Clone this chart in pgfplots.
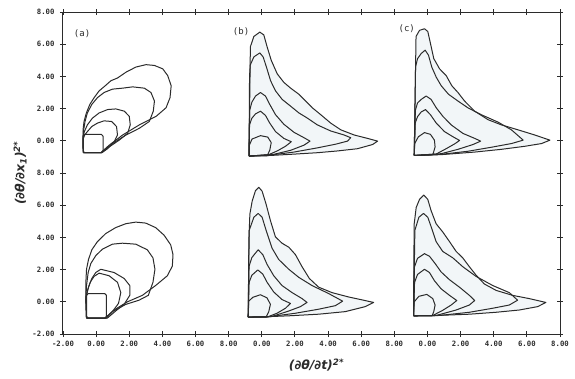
\documentclass[border=0pt]{standalone}
\usepackage{pgfplots}
\pgfplotsset{compat=1.18}
\usepackage{fontspec}
\newfontfamily\monofont{DejaVu Sans Mono}
\newfontfamily\labfont{DejaVu Sans}
\definecolor{ink}{rgb}{0.17,0.17,0.17}
\definecolor{tint}{RGB}{242,246,248}
\pgfplotsset{
  ctr/.style={draw=ink, line width=1.0pt, line join=round, mark=none},
  table/pAt/.style={x expr=\thisrowno{0}, y expr=\thisrowno{1}+10, row sep=\\, header=false},
  table/pBt/.style={x expr=\thisrowno{0}+10, y expr=\thisrowno{1}+10, row sep=\\, header=false},
  table/pCt/.style={x expr=\thisrowno{0}+20, y expr=\thisrowno{1}+10, row sep=\\, header=false},
  table/pAb/.style={x expr=\thisrowno{0}, y expr=\thisrowno{1}, row sep=\\, header=false},
  table/pBb/.style={x expr=\thisrowno{0}+10, y expr=\thisrowno{1}, row sep=\\, header=false},
  table/pCb/.style={x expr=\thisrowno{0}+20, y expr=\thisrowno{1}, row sep=\\, header=false},
}
\begin{document}
\begin{tikzpicture}
\path[use as bounding box] (-63pt,-44pt) rectangle (512pt,334pt);
\begin{axis}[
  at={(0,0)}, anchor=south west,
  scale only axis, width=497pt, height=322pt,
  xmin=-2, xmax=28, ymin=-2, ymax=18,
  axis line style={draw=ink, line width=1.0pt},
  tick style={draw=ink, line width=0.9pt},
  tick align=center, major tick length=6pt,
  xtick={-2,0,2,4,6,8,10,12,14,16,18,20,22,24,26,28},
  xticklabels={-2.00,0.00,2.00,4.00,6.00,8.00,0.00,2.00,4.00,6.00,8.00,0.00,2.00,4.00,6.00,8.00},
  ytick={-2,0,2,4,6,8,10,12,14,16,18},
  yticklabels={-2.00,0.00,2.00,4.00,6.00,8.00,0.00,2.00,4.00,6.00,8.00},
  ticklabel style={font=\monofont\bfseries\fontsize{7.3}{8}\selectfont, text=ink},
  xticklabel style={yshift=-1pt},
  yticklabel style={xshift=-2pt},
  xlabel={\labfont\bfseries\itshape (∂θ/∂t)\textsuperscript{2*}},
  ylabel={\labfont\bfseries\itshape (∂θ/∂x\textsubscript{1})\textsuperscript{2*}},
  label style={font=\fontsize{12.5}{14}\selectfont, text=ink},
  xlabel style={at={(axis description cs:0.51,0)}, yshift=-21pt},
  ylabel style={yshift=-1pt},
  clip=false,
]
% ---------- fills (b, c) ----------
\addplot[draw=none, fill=tint] table[pBt] {
-0.77 -0.95\\ -0.73 2.47\\ -0.69 5.84\\ -0.48 6.48\\ -0.12 6.75\\ 0.12 6.58\\ 0.32 5.84\\ 0.57 5.00\\ 0.93 4.16\\ 1.33 3.63\\ 1.74 3.27\\ 2.24 2.89\\ 2.65 2.47\\ 3.05 2.05\\ 3.56 1.62\\ 4.16 1.10\\ 4.77 0.68\\ 5.58 0.36\\ 6.38 0.15\\ 6.99 -0.02\\ 6.69 -0.23\\ 5.78 -0.49\\ 4.57 -0.63\\ 3.35 -0.74\\ 1.74 -0.84\\ 0.53 -0.91\\ -0.77 -0.95\\
};
\addplot[draw=none, fill=tint] table[pCt] {
-0.80 -0.91\\ -0.75 2.47\\ -0.69 6.48\\ -0.48 6.86\\ -0.18 6.96\\ 0.02 6.79\\ 0.18 6.05\\ 0.38 5.11\\ 0.73 4.47\\ 1.13 4.05\\ 1.47 3.42\\ 1.84 3.00\\ 2.24 2.47\\ 2.85 1.84\\ 3.66 1.31\\ 4.46 0.99\\ 5.47 0.68\\ 6.48 0.36\\ 7.39 0.04\\ 6.89 -0.17\\ 5.88 -0.34\\ 4.46 -0.53\\ 2.85 -0.70\\ 0.83 -0.86\\ -0.80 -0.91\\
};
\addplot[draw=none, fill=tint] table[pBb] {
-0.82 -0.95\\ -0.78 3.84\\ -0.72 5.45\\ -0.58 6.26\\ -0.38 6.91\\ -0.18 7.11\\ 0.02 6.87\\ 0.26 6.06\\ 0.52 5.05\\ 0.82 4.04\\ 1.22 3.64\\ 1.63 3.39\\ 2.03 2.93\\ 2.43 2.18\\ 2.87 1.45\\ 3.43 0.91\\ 4.24 0.57\\ 5.24 0.30\\ 6.14 0.10\\ 6.75 -0.04\\ 6.24 -0.30\\ 5.04 -0.61\\ 3.43 -0.77\\ 1.63 -0.87\\ 0.22 -0.93\\ -0.82 -0.95\\
};
\addplot[draw=none, fill=tint] table[pCb] {
-0.84 -0.87\\ -0.82 2.83\\ -0.80 4.85\\ -0.68 5.86\\ -0.48 6.36\\ -0.22 6.63\\ 0.02 6.36\\ 0.22 5.66\\ 0.52 4.85\\ 0.92 4.34\\ 1.33 3.74\\ 1.73 3.13\\ 2.13 2.73\\ 2.53 2.18\\ 2.93 1.66\\ 3.43 1.11\\ 4.14 0.71\\ 5.14 0.40\\ 6.14 0.20\\ 7.15 -0.04\\ 6.65 -0.30\\ 5.54 -0.51\\ 4.14 -0.65\\ 2.53 -0.77\\ 0.52 -0.85\\ -0.84 -0.87\\
};
% ---------- panel (a) top ----------
\addplot[ctr] table[pAt] {
-0.77 -0.74\\ 0.28 -0.74\\ 0.79 -0.27\\ 1.60 0.36\\ 2.61 0.99\\ 3.62 1.52\\ 4.22 2.05\\ 4.46 2.68\\ 4.53 3.42\\ 4.32 4.05\\ 4.02 4.47\\ 3.52 4.68\\ 3.01 4.73\\ 2.40 4.58\\ 1.80 4.26\\ 1.29 3.90\\ 0.89 3.73\\ 0.55 3.42\\ 0.18 3.10\\ -0.12 2.68\\ -0.38 2.26\\ -0.59 1.73\\ -0.73 1.20\\ -0.79 0.68\\ -0.79 -0.06\\ -0.77 -0.74\\
};
\addplot[ctr] table[pAt] {
-0.77 -0.74\\ 0.30 -0.74\\ 0.99 -0.17\\ 1.80 0.36\\ 2.61 0.78\\ 3.21 1.20\\ 3.45 1.84\\ 3.52 2.47\\ 3.31 3.00\\ 2.91 3.27\\ 2.20 3.35\\ 1.60 3.27\\ 0.99 3.21\\ 0.48 3.00\\ 0.08 2.68\\ -0.26 2.26\\ -0.53 1.73\\ -0.67 1.20\\ -0.77 0.57\\ -0.79 -0.06\\ -0.77 -0.74\\
};
\addplot[ctr] table[pAt] {
-0.77 -0.74\\ 0.32 -0.74\\ 0.79 -0.38\\ 1.39 0.04\\ 1.90 0.46\\ 2.06 0.99\\ 2.00 1.52\\ 1.70 1.84\\ 1.19 1.98\\ 0.69 1.94\\ 0.18 1.73\\ -0.22 1.41\\ -0.53 0.99\\ -0.71 0.57\\ -0.79 0.20\\ -0.79 -0.06\\ -0.77 -0.74\\
};
\addplot[ctr] table[pAt] {
-0.77 -0.74\\ 0.35 -0.74\\ 0.69 -0.49\\ 1.09 -0.06\\ 1.29 0.36\\ 1.23 0.89\\ 0.93 1.20\\ 0.48 1.24\\ 0.08 1.10\\ -0.26 0.89\\ -0.53 0.57\\ -0.69 0.36\\ -0.79 0.10\\ -0.77 -0.74\\
};
\addplot[ctr] table[pAt] {
-0.70 -0.74\\ 0.32 -0.74\\ 0.42 -0.62\\ 0.42 0.28\\ 0.32 0.40\\ -0.68 0.40\\ -0.79 0.30\\ -0.79 -0.62\\ -0.70 -0.74\\
};
% ---------- panel (a) bottom ----------
\addplot[ctr] table[pAb] {
-0.58 -1.01\\ 0.54 -1.01\\ 1.08 -0.51\\ 1.89 0.00\\ 2.79 0.40\\ 3.59 1.01\\ 4.30 1.62\\ 4.60 2.22\\ 4.64 2.93\\ 4.50 3.54\\ 4.10 4.14\\ 3.59 4.61\\ 2.99 4.89\\ 2.39 4.95\\ 1.79 4.85\\ 1.18 4.61\\ 0.58 4.24\\ 0.08 3.74\\ -0.26 3.23\\ -0.46 2.63\\ -0.58 2.02\\ -0.62 1.21\\ -0.62 0.20\\ -0.58 -1.01\\
};
\addplot[ctr] table[pAb] {
-0.58 -1.01\\ 0.56 -1.01\\ 0.98 -0.61\\ 1.79 -0.16\\ 2.59 0.10\\ 3.15 0.40\\ 3.43 1.21\\ 3.55 2.02\\ 3.43 2.73\\ 3.09 3.23\\ 2.39 3.58\\ 1.59 3.64\\ 0.98 3.58\\ 0.38 3.27\\ -0.02 2.87\\ -0.32 2.38\\ -0.48 1.82\\ -0.58 1.01\\ -0.62 0.20\\ -0.58 -1.01\\
};
\addplot[ctr] table[pAb] {
-0.58 -1.01\\ 0.68 -1.01\\ 1.18 -0.57\\ 1.69 -0.16\\ 2.03 0.40\\ 2.03 1.01\\ 1.69 1.45\\ 1.08 1.82\\ 0.28 2.02\\ -0.02 1.82\\ -0.26 1.45\\ -0.46 0.91\\ -0.58 0.40\\ -0.62 0.10\\ -0.58 -1.01\\
};
\addplot[ctr] table[pAb] {
-0.58 -1.01\\ 0.62 -1.01\\ 0.98 -0.61\\ 1.35 -0.10\\ 1.49 0.57\\ 1.29 1.21\\ 0.78 1.62\\ 0.18 1.78\\ -0.12 1.58\\ -0.36 1.21\\ -0.52 0.71\\ -0.60 0.30\\ -0.58 -1.01\\
};
\addplot[ctr] table[pAb] {
-0.48 -1.01\\ 0.52 -1.01\\ 0.62 -0.90\\ 0.62 0.40\\ 0.52 0.51\\ -0.48 0.51\\ -0.58 0.40\\ -0.58 -0.90\\ -0.48 -1.01\\
};
% ---------- panel (b) top ----------
\addplot[ctr] table[pBt] {
-0.77 -0.95\\ -0.73 2.47\\ -0.69 5.84\\ -0.48 6.48\\ -0.12 6.75\\ 0.12 6.58\\ 0.32 5.84\\ 0.57 5.00\\ 0.93 4.16\\ 1.33 3.63\\ 1.74 3.27\\ 2.24 2.89\\ 2.65 2.47\\ 3.05 2.05\\ 3.56 1.62\\ 4.16 1.10\\ 4.77 0.68\\ 5.58 0.36\\ 6.38 0.15\\ 6.99 -0.02\\ 6.69 -0.23\\ 5.78 -0.49\\ 4.57 -0.63\\ 3.35 -0.74\\ 1.74 -0.84\\ 0.53 -0.91\\ -0.77 -0.95\\
};
\addplot[ctr] table[pBt] {
-0.77 -0.95\\ -0.74 4.00\\ -0.70 4.70\\ -0.48 5.21\\ -0.12 5.46\\ 0.08 5.21\\ 0.28 4.58\\ 0.53 3.73\\ 0.83 3.10\\ 1.23 2.57\\ 1.74 2.15\\ 2.24 1.73\\ 2.75 1.41\\ 3.35 0.99\\ 4.16 0.61\\ 4.97 0.36\\ 5.37 0.19\\ 5.17 -0.02\\ 4.46 -0.21\\ 3.35 -0.44\\ 1.94 -0.70\\ 0.73 -0.86\\ -0.77 -0.95\\
};
\addplot[ctr] table[pBt] {
-0.77 -0.95\\ -0.73 1.90\\ -0.60 2.40\\ -0.38 2.78\\ -0.08 3.00\\ 0.22 2.78\\ 0.48 2.26\\ 0.83 1.62\\ 1.33 1.03\\ 1.94 0.53\\ 2.55 0.19\\ 2.91 -0.02\\ 2.55 -0.27\\ 1.74 -0.59\\ 0.73 -0.84\\ -0.77 -0.95\\
};
\addplot[ctr] table[pBt] {
-0.77 -0.95\\ -0.74 1.00\\ -0.60 1.40\\ -0.38 1.67\\ -0.08 1.84\\ 0.22 1.58\\ 0.48 1.10\\ 0.83 0.57\\ 1.33 0.15\\ 1.78 -0.06\\ 1.43 -0.34\\ 0.93 -0.63\\ 0.42 -0.86\\ -0.77 -0.95\\
};
\addplot[ctr] table[pBt] {
-0.77 -0.95\\ -0.75 -0.27\\ -0.59 0.11\\ -0.08 0.32\\ 0.36 0.23\\ 0.57 -0.11\\ 0.48 -0.59\\ 0.32 -0.93\\ -0.77 -0.95\\
};
% ---------- panel (c) top ----------
\addplot[ctr] table[pCt] {
-0.80 -0.91\\ -0.75 2.47\\ -0.69 6.48\\ -0.48 6.86\\ -0.18 6.96\\ 0.02 6.79\\ 0.18 6.05\\ 0.38 5.11\\ 0.73 4.47\\ 1.13 4.05\\ 1.47 3.42\\ 1.84 3.00\\ 2.24 2.47\\ 2.85 1.84\\ 3.66 1.31\\ 4.46 0.99\\ 5.47 0.68\\ 6.48 0.36\\ 7.39 0.04\\ 6.89 -0.17\\ 5.88 -0.34\\ 4.46 -0.53\\ 2.85 -0.70\\ 0.83 -0.86\\ -0.80 -0.91\\
};
\addplot[ctr] table[pCt] {
-0.80 -0.91\\ -0.72 4.58\\ -0.60 5.10\\ -0.38 5.42\\ -0.14 5.63\\ 0.06 5.32\\ 0.26 4.58\\ 0.53 3.95\\ 0.83 3.42\\ 1.27 2.89\\ 1.84 2.47\\ 2.44 2.05\\ 3.25 1.62\\ 4.26 1.16\\ 5.07 0.68\\ 5.78 0.04\\ 5.07 -0.17\\ 3.86 -0.40\\ 2.44 -0.65\\ 0.83 -0.84\\ -0.80 -0.91\\
};
\addplot[ctr] table[pCt] {
-0.80 -0.91\\ -0.73 1.90\\ -0.60 2.35\\ -0.38 2.57\\ -0.08 2.78\\ 0.22 2.57\\ 0.53 2.05\\ 0.93 1.52\\ 1.43 0.99\\ 2.14 0.46\\ 2.85 0.15\\ 3.21 -0.02\\ 2.75 -0.23\\ 1.84 -0.53\\ 0.83 -0.80\\ -0.80 -0.91\\
};
\addplot[ctr] table[pCt] {
-0.80 -0.91\\ -0.74 1.10\\ -0.60 1.50\\ -0.38 1.79\\ -0.12 1.94\\ 0.18 1.62\\ 0.53 1.10\\ 1.03 0.57\\ 1.54 0.25\\ 1.94 0.02\\ 1.64 -0.19\\ 1.13 -0.49\\ 0.53 -0.82\\ -0.80 -0.91\\
};
\addplot[ctr] table[pCt] {
-0.80 -0.91\\ -0.77 -0.17\\ -0.55 0.25\\ -0.18 0.51\\ 0.18 0.40\\ 0.42 0.04\\ 0.46 -0.38\\ 0.32 -0.88\\ -0.80 -0.91\\
};
% ---------- panel (b) bottom ----------
\addplot[ctr] table[pBb] {
-0.82 -0.95\\ -0.78 3.84\\ -0.72 5.45\\ -0.58 6.26\\ -0.38 6.91\\ -0.18 7.11\\ 0.02 6.87\\ 0.26 6.06\\ 0.52 5.05\\ 0.82 4.04\\ 1.22 3.64\\ 1.63 3.39\\ 2.03 2.93\\ 2.43 2.18\\ 2.87 1.45\\ 3.43 0.91\\ 4.24 0.57\\ 5.24 0.30\\ 6.14 0.10\\ 6.75 -0.04\\ 6.24 -0.30\\ 5.04 -0.61\\ 3.43 -0.77\\ 1.63 -0.87\\ 0.22 -0.93\\ -0.82 -0.95\\
};
\addplot[ctr] table[pBb] {
-0.82 -0.95\\ -0.76 4.44\\ -0.48 5.25\\ -0.22 5.49\\ 0.02 5.25\\ 0.26 4.44\\ 0.62 3.33\\ 1.02 2.63\\ 1.63 2.02\\ 2.23 1.52\\ 3.03 1.01\\ 4.04 0.51\\ 4.88 0.04\\ 4.44 -0.24\\ 3.43 -0.46\\ 2.03 -0.71\\ 0.42 -0.93\\ -0.82 -0.95\\
};
\addplot[ctr] table[pBb] {
-0.82 -0.95\\ -0.77 2.20\\ -0.60 2.75\\ -0.22 3.23\\ 0.06 2.93\\ 0.32 2.32\\ 0.72 1.62\\ 1.22 1.01\\ 1.83 0.57\\ 2.43 0.20\\ 2.73 -0.04\\ 2.33 -0.30\\ 1.63 -0.57\\ 0.62 -0.91\\ -0.82 -0.95\\
};
\addplot[ctr] table[pBb] {
-0.82 -0.95\\ -0.77 1.20\\ -0.60 1.65\\ -0.24 1.98\\ 0.06 1.72\\ 0.32 1.21\\ 0.72 0.61\\ 1.22 0.14\\ 1.73 -0.10\\ 1.43 -0.40\\ 0.92 -0.71\\ 0.32 -0.95\\ -0.82 -0.95\\
};
\addplot[ctr] table[pBb] {
-0.82 -0.95\\ -0.79 0.04\\ -0.54 0.28\\ -0.08 0.44\\ 0.32 0.24\\ 0.52 -0.16\\ 0.42 -0.61\\ 0.26 -0.95\\ -0.82 -0.95\\
};
% ---------- panel (c) bottom ----------
\addplot[ctr] table[pCb] {
-0.84 -0.87\\ -0.82 2.83\\ -0.80 4.85\\ -0.68 5.86\\ -0.48 6.36\\ -0.22 6.63\\ 0.02 6.36\\ 0.22 5.66\\ 0.52 4.85\\ 0.92 4.34\\ 1.33 3.74\\ 1.73 3.13\\ 2.13 2.73\\ 2.53 2.18\\ 2.93 1.66\\ 3.43 1.11\\ 4.14 0.71\\ 5.14 0.40\\ 6.14 0.20\\ 7.15 -0.04\\ 6.65 -0.30\\ 5.54 -0.51\\ 4.14 -0.65\\ 2.53 -0.77\\ 0.52 -0.85\\ -0.84 -0.87\\
};
\addplot[ctr] table[pCb] {
-0.84 -0.87\\ -0.76 4.44\\ -0.52 5.25\\ -0.24 5.49\\ 0.02 5.25\\ 0.26 4.55\\ 0.52 3.74\\ 0.92 3.13\\ 1.53 2.73\\ 2.13 2.18\\ 2.93 1.58\\ 3.94 1.01\\ 4.94 0.57\\ 5.44 0.10\\ 4.94 -0.20\\ 3.94 -0.40\\ 2.53 -0.65\\ 0.72 -0.85\\ -0.84 -0.87\\
};
\addplot[ctr] table[pCb] {
-0.84 -0.87\\ -0.79 2.15\\ -0.60 2.70\\ -0.18 2.99\\ 0.12 2.83\\ 0.46 2.38\\ 0.82 1.86\\ 1.33 1.37\\ 1.93 0.91\\ 2.53 0.40\\ 2.85 0.08\\ 2.53 -0.20\\ 1.73 -0.51\\ 0.52 -0.85\\ -0.84 -0.87\\
};
\addplot[ctr] table[pCb] {
-0.84 -0.87\\ -0.78 1.20\\ -0.60 1.70\\ -0.18 2.02\\ 0.12 1.82\\ 0.42 1.31\\ 0.82 0.81\\ 1.33 0.40\\ 1.77 0.08\\ 1.43 -0.20\\ 0.92 -0.53\\ 0.32 -0.85\\ -0.84 -0.87\\
};
\addplot[ctr] table[pCb] {
-0.84 -0.87\\ -0.80 0.00\\ -0.52 0.34\\ -0.04 0.46\\ 0.32 0.20\\ 0.46 -0.20\\ 0.38 -0.61\\ 0.28 -0.87\\ -0.84 -0.87\\
};
% ---------- panel labels ----------
\node[font=\monofont\fontsize{9}{10}\selectfont, text=ink] at (axis cs:-0.85,16.65) {(a)};
\node[font=\monofont\fontsize{9}{10}\selectfont, text=ink] at (axis cs:8.75,16.75) {(b)};
\node[font=\monofont\fontsize{9}{10}\selectfont, text=ink] at (axis cs:18.75,16.95) {(c)};
\end{axis}
\end{tikzpicture}
\end{document}
